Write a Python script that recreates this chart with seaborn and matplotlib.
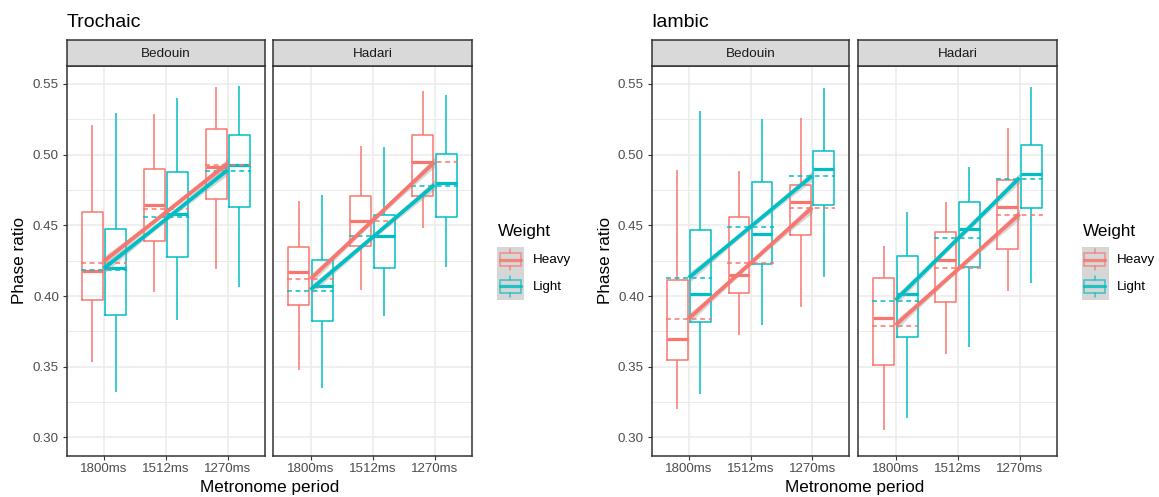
import numpy as np
import pandas as pd
import matplotlib
matplotlib.use("Agg")
import matplotlib.pyplot as plt
from matplotlib.patches import Rectangle
import seaborn as sns

# ---------------------------------------------------------------- data
periods = ["1800ms", "1512ms", "1270ms"]
weights = ["Heavy", "Light"]
dialects = ["Bedouin", "Hadari"]
palette = {"Heavy": "#F8766D", "Light": "#00BFC4"}

# Each stat array: [Heavy row, Light row] across the three periods.
# Trochaic / Bedouin
tb_lo = [[0.3537, 0.4032, 0.4190], [0.3325, 0.3832, 0.4063]]
tb_q1 = [[0.3975, 0.4390, 0.4685], [0.3865, 0.4275, 0.4633]]
tb_med = [[0.4178, 0.4645, 0.4916], [0.4195, 0.4581, 0.4927]]
tb_q3 = [[0.4595, 0.4896, 0.5184], [0.4477, 0.4876, 0.5142]]
tb_hi = [[0.5210, 0.5286, 0.5479], [0.5293, 0.5399, 0.5484]]
tb_mean = [[0.4235, 0.4615, 0.4927], [0.4187, 0.4558, 0.4885]]

# Trochaic / Hadari
th_lo = [[0.3479, 0.4042, 0.4484], [0.3353, 0.3862, 0.4209]]
th_q1 = [[0.3940, 0.4357, 0.4708], [0.3823, 0.4195, 0.4560]]
th_med = [[0.4171, 0.4534, 0.4949], [0.4072, 0.4428, 0.4798]]
th_q3 = [[0.4348, 0.4708, 0.5142], [0.4256, 0.4574, 0.5005]]
th_hi = [[0.4673, 0.5064, 0.5453], [0.4718, 0.5053, 0.5420]]
th_mean = [[0.4122, 0.4530, 0.4949], [0.4039, 0.4428, 0.4781]]

# Iambic / Bedouin
ib_lo = [[0.3201, 0.3724, 0.3926], [0.3307, 0.3797, 0.4133]]
ib_q1 = [[0.3547, 0.4023, 0.4433], [0.3816, 0.4226, 0.4645]]
ib_med = [[0.3696, 0.4148, 0.4664], [0.4018, 0.4440, 0.4897]]
ib_q3 = [[0.4112, 0.4562, 0.4784], [0.4468, 0.4809, 0.5029]]
ib_hi = [[0.4892, 0.4883, 0.5257], [0.5311, 0.5255, 0.5469]]
ib_mean = [[0.3839, 0.4237, 0.4624], [0.4129, 0.4491, 0.4850]]

# Iambic / Hadari
ih_lo = [[0.3054, 0.3590, 0.4039], [0.3137, 0.3639, 0.4091]]
ih_q1 = [[0.3514, 0.3957, 0.4336], [0.3710, 0.4204, 0.4626]]
ih_med = [[0.3848, 0.4256, 0.4631], [0.4014, 0.4473, 0.4864]]
ih_q3 = [[0.4131, 0.4452, 0.4821], [0.4280, 0.4664, 0.5071]]
ih_hi = [[0.4357, 0.4664, 0.5187], [0.4591, 0.4913, 0.5481]]
ih_mean = [[0.3790, 0.4197, 0.4574], [0.3966, 0.4414, 0.4831]]

# half-width of the regression confidence band at the centre / ends
band_mid = 0.0018
band_end = 0.0036

y_major = [0.30, 0.35, 0.40, 0.45, 0.50, 0.55]
y_minor = [0.325, 0.375, 0.425, 0.475, 0.525]
y_limits = (0.2869, 0.5627)

# ---------------------------------------------------------------- style
sns.set_style("white")
plt.rcParams["font.family"] = ["Liberation Sans", "DejaVu Sans"]

W, H = 1159, 497
fig = plt.figure(figsize=(W / 100, H / 100), dpi=100)

BORDER = "#333333"
GRID = "#EBEBEB"
TICK_FS = 9.6
STRIP_FS = 9.7
AXIS_FS = 12.3
TITLE_FS = 14


def px_axes(x0, y0, x1, y1):
    return fig.add_axes([x0 / W, 1 - y1 / H, (x1 - x0) / W, (y1 - y0) / H])


def long_table(lo, q1, med, q3, hi):
    rows = []
    for wi, w in enumerate(weights):
        for pi, p in enumerate(periods):
            for v in (lo[wi][pi], q1[wi][pi], med[wi][pi], q3[wi][pi], hi[wi][pi]):
                rows.append({"period": p, "Weight": w, "ratio": v})
    return pd.DataFrame(rows)


def draw_panel(ax, lo, q1, med, q3, hi, mean, show_y):
    df = long_table(lo, q1, med, q3, hi)
    sns.boxplot(
        data=df, x="period", y="ratio", hue="Weight",
        order=periods, hue_order=weights, palette=palette,
        fill=False, width=0.75, gap=0.1, whis=(0, 100),
        linewidth=1.1, medianprops={"linewidth": 2.3},
        showcaps=False, legend=False, ax=ax, zorder=3,
    )
    xs = np.arange(len(periods))
    for wi, w in enumerate(weights):
        c = palette[w]
        ax.hlines(mean[wi], xs - 0.375, xs + 0.375, colors=c,
                  linestyles=(0, (3.2, 2.4)), linewidth=1.1, zorder=4)
    for wi, w in enumerate(weights):
        c = palette[w]
        slope, icpt = np.polyfit(xs, mean[wi], 1)
        xf = np.linspace(xs[0], xs[-1], 60)
        yf = icpt + slope * xf
        mid = xs.mean()
        hw = np.sqrt(band_mid ** 2 + (band_end ** 2 - band_mid ** 2) * (xf - mid) ** 2)
        ax.fill_between(xf, yf - hw, yf + hw, color="#999999", alpha=0.4,
                        linewidth=0, zorder=5)
        ax.plot(xf, yf, color=c, lw=2.7, zorder=6, solid_capstyle="butt")

    ax.set_xlim(-0.6, 2.6)
    ax.set_ylim(*y_limits)
    ax.set_yticks(y_major)
    ax.set_yticks(y_minor, minor=True)
    ax.set_yticklabels([f"{v:.2f}" for v in y_major])
    ax.set_axisbelow(True)
    ax.grid(which="major", axis="both", color=GRID, linewidth=1.1)
    ax.grid(which="minor", axis="y", color=GRID, linewidth=0.7)
    ax.xaxis.grid(True, color=GRID, linewidth=1.1)
    ax.set_xlabel("")
    ax.set_ylabel("")
    for s in ax.spines.values():
        s.set_visible(True)
        s.set_color(BORDER)
        s.set_linewidth(1.1)
    ax.tick_params(axis="both", which="major", length=3.2, width=0.8,
                   color=BORDER, labelcolor="#4D4D4D", labelsize=TICK_FS)
    ax.tick_params(axis="x", pad=1.6, bottom=True)
    ax.tick_params(axis="y", pad=2.4, left=show_y, labelleft=show_y)
    ax.tick_params(which="minor", length=0)


def draw_strip(x0, x1, label):
    s = px_axes(x0, 40, x1, 66)
    s.set_facecolor("#D9D9D9")
    s.set_xticks([])
    s.set_yticks([])
    for sp in s.spines.values():
        sp.set_visible(True)
        sp.set_color(BORDER)
        sp.set_linewidth(1.1)
    s.text(0.5, 0.48, label, ha="center", va="center", fontsize=STRIP_FS,
           color="#1A1A1A", transform=s.transAxes)


def draw_legend(kx, title_x, label_x):
    fig.text(title_x / W, 1 - 236 / H, "Weight", fontsize=AXIS_FS,
             va="baseline", ha="left", color="black")
    key_top, key_h, key_w = 246.7, 26.7, 26.7
    lg = px_axes(kx, key_top, kx + key_w, key_top + key_h * len(weights))
    lg.set_xlim(0, 1)
    lg.set_ylim(len(weights), 0)
    lg.axis("off")
    lg.add_patch(Rectangle((0, 0), 1, len(weights), facecolor="#D6D6D6",
                           edgecolor="none"))
    for i, w in enumerate(weights):
        c = palette[w]
        # y grows downward inside a key: whisker top, box, median, whisker bottom
        lg.add_patch(Rectangle((0.09, i + 0.23), 0.79, 0.51, fill=False,
                               edgecolor=c, lw=1.1, alpha=0.75))
        lg.plot([0.09, 0.88], [i + 0.49, i + 0.49], color=c, lw=2.3, alpha=0.85)
        lg.plot([0.485, 0.485], [i + 0.09, i + 0.23], color=c, lw=1.1, alpha=0.75)
        lg.plot([0.485, 0.485], [i + 0.74, i + 0.88], color=c, lw=1.1, alpha=0.75)
        fig.text(label_x / W, 1 - (key_top + key_h * (i + 0.5)) / H, w,
                 fontsize=TICK_FS, ha="left", va="center", color="black")


# ---------------------------------------------------------------- layout
groups = [
    ("Trochaic", [(66.7, 265.0), (273.3, 471.7)],
     [(tb_lo, tb_q1, tb_med, tb_q3, tb_hi, tb_mean),
      (th_lo, th_q1, th_med, th_q3, th_hi, th_mean)],
     20, 497.3, 498.3, 532.7),
    ("Iambic", [(651.7, 849.3), (858.3, 1056.7)],
     [(ib_lo, ib_q1, ib_med, ib_q3, ib_hi, ib_mean),
      (ih_lo, ih_q1, ih_med, ih_q3, ih_hi, ih_mean)],
     605, 1082.0, 1083.0, 1117.3),
]

for title, spans, stats, ylab_x, key_x, leg_title_x, lab_x in groups:
    for di, ((x0, x1), st) in enumerate(zip(spans, stats)):
        ax = px_axes(x0, 66, x1, 456)
        draw_panel(ax, *st, show_y=(di == 0))
        draw_strip(x0, x1, dialects[di])
    left, right = spans[0][0], spans[1][1]
    fig.text(left / W, 1 - 26.7 / H, title, fontsize=TITLE_FS, va="baseline",
             ha="left", color="black")
    fig.text((left + right) / 2 / W, 1 - 492 / H, "Metronome period",
             fontsize=AXIS_FS, ha="center", va="baseline", color="black")
    fig.text(ylab_x / W, 1 - 261 / H, "Phase ratio", fontsize=AXIS_FS,
             rotation=90, ha="center", va="center", color="black")
    draw_legend(key_x, leg_title_x, lab_x)

fig.savefig("out.png", dpi=100)
